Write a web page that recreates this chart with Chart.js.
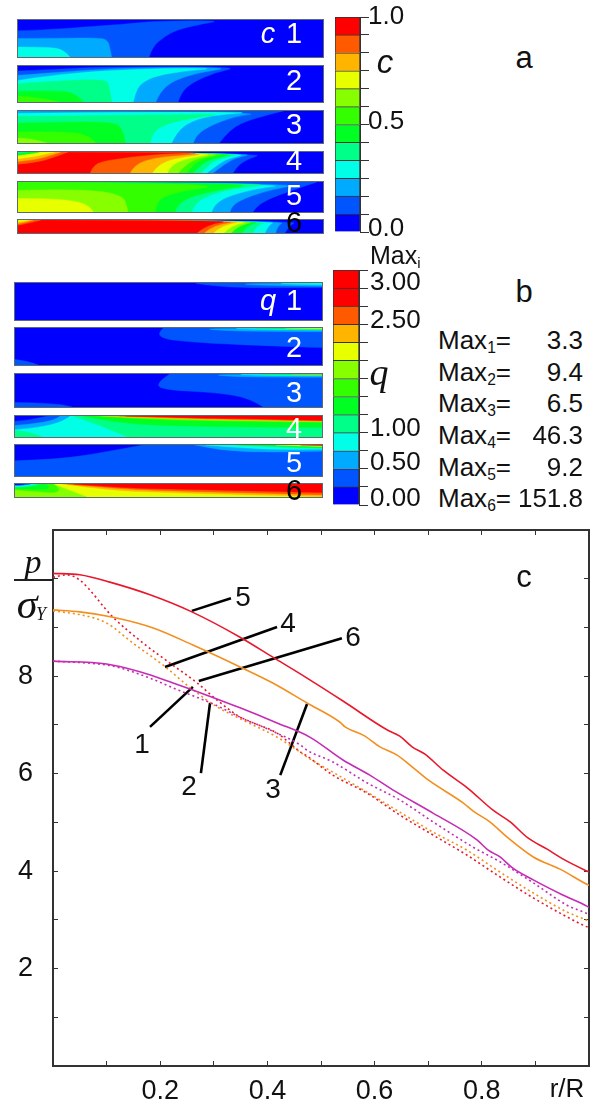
<!DOCTYPE html>
<html><head><meta charset="utf-8">
<script src="https://cdn.jsdelivr.net/npm/chart.js@4/dist/chart.umd.min.js"></script>
<style>
html,body{margin:0;padding:0;background:#fff;width:600px;height:1104px;overflow:hidden;position:relative;font-family:"Liberation Sans",Arial,sans-serif;color:#111}
canvas{position:absolute;display:block}
.strip{outline:1px solid #5d6b70;filter:blur(.35px)}
.t{position:absolute;transform:translate(-50%,-50%);white-space:nowrap;line-height:1;z-index:5}
.t sub{font-size:.6em;vertical-align:-.28em;line-height:0}
.rule{position:absolute;background:#222;z-index:5}
</style></head><body>
<script>
// ---- contour palette, one colour per level band
const levelColors=['#0000ff','#0055ff','#00aaff','#00ffe6','#00ff88','#00ff22','#33ff00','#88ff00','#e8ff00','#ffb400','#ff5a00','#ff0000'];
// ---- concentration c: [level, [x,y, x,y, ...]] in r/R and z/h units
const cField1=[[1,[0,.71,.08,.73,.21,.80,.38,.91,.45,.97,.67,.99,.60,.89,.52,.73,.48,.55,.44,.27,.43,0,0,0]],[2,[0,.50,.15,.51,.26,.52,.295,.46,.303,.18,.307,0,0,0]],[3,[0,.27,.10,.27,.15,.2,.17,0,0,0]]];
const cField2=[[1,[0,.86,.10,.90,.29,.98,.73,.98,.65,.83,.575,.56,.535,.28,.525,0,0,0]],[2,[0,.74,.16,.85,.38,.96,.706,.96,.60,.83,.51,.60,.465,.28,.452,0,0,0]],[3,[0,.60,.105,.74,.27,.86,.49,.94,.65,.94,.55,.86,.455,.74,.40,.51,.384,.23,.378,0,0,0]],[4,[0,.51,.16,.60,.29,.63,.30,.42,.307,0,0,0]],[5,[0,.30,.12,.32,.19,.25,.215,0,0,0]],[6,[0,.17,.08,.12,.135,0,0,0]]];
const cField3=[[1,[0,1,.87,1,.77,.77,.695,.45,.66,0,0,0]],[2,[0,1,.815,.97,.705,.82,.62,.5,.58,.19,.575,0,0,0]],[3,[0,.93,.20,.95,.50,.97,.78,.96,.65,.88,.57,.70,.52,.35,.504,0,0,0]],[4,[0,.83,.25,.86,.50,.88,.68,.90,.58,.80,.49,.61,.44,.35,.433,0,0,0]],[5,[0,.62,.15,.66,.31,.66,.345,.45,.352,0,0,0]],[6,[0,.35,.16,.37,.235,.24,.255,0,0,0]],[7,[0,.16,.05,.14,.095,0,0,0]]];
const cField4=[[1,[0,1,.81,.94,.76,.7,.72,.37,.705,0,0,0]],[2,[0,1,.785,.95,.717,.73,.68,.45,.64,0,0,0]],[3,[0,1,.77,.96,.69,.7,.652,.37,.62,0,0,0]],[4,[0,1,.757,.97,.66,.7,.623,.37,.60,0,0,0]],[5,[0,1,.74,.97,.636,.7,.597,.37,.575,0,0,0]],[6,[0,1,.72,.98,.607,.7,.574,.37,.553,0,0,0]],[7,[0,1,.70,.98,.587,.7,.548,.37,.525,0,0,0]],[8,[0,1,.68,.98,.554,.7,.50,.37,.49,0,0,0]],[9,[0,1,.66,.98,.515,.73,.456,.37,.44,0,0,0]],[10,[0,1,.64,.98,.515,.83,.45,.73,.384,.45,.367,0,0,0]],[11,[0,1,.607,.98,.515,.95,.426,.87,.308,.65,.246,.45,.236,0,0,0]],[10,[0,.42,.056,.5,.11,.7,.164,1,0,1]],[9,[0,.55,.05,.62,.10,.8,.14,1,0,1]],[8,[0,.68,.04,.75,.09,.9,.12,1,0,1]],[5,[0,.85,.03,.88,.07,1,0,1]],[4,[0,.95,.03,1,0,1]]];
const cField5=[[1,[0,1,.98,1,.88,.66,.81,.38,.78,.15,.77,0,0,0]],[2,[0,1,.95,.96,.83,.75,.74,.45,.70,.2,.695,0,0,0]],[3,[0,1,.90,.93,.78,.78,.68,.5,.64,.2,.635,0,0,0]],[4,[0,.97,.30,.97,.60,.97,.84,.92,.70,.78,.61,.5,.575,.2,.57,0,0,0]],[5,[0,1,.5,.98,.78,.92,.66,.75,.56,.5,.52,.2,.515,0,0,0]],[6,[0,1,.40,.97,.66,.88,.55,.72,.47,.5,.452,.2,.45,0,0,0]],[7,[0,.72,.10,.75,.26,.72,.34,.55,.357,.26,.36,0,0,0]],[8,[0,.45,.098,.45,.187,.375,.236,.2,.247,0,0,0]]];
const cField6=[[1,[0,1,.92,.95,.89,.6,.875,0,0,0]],[2,[0,1,.88,.95,.85,.55,.845,0,0,0]],[3,[0,1,.85,.95,.82,.6,.81,0,0,0]],[4,[0,1,.83,.95,.78,.6,.77,0,0,0]],[5,[0,1,.81,.95,.75,.6,.735,0,0,0]],[7,[0,1,.80,.95,.72,.6,.70,0,0,0]],[8,[0,1,.78,.95,.70,.62,.675,0,0,0]],[9,[0,1,.76,.95,.67,.65,.64,0,0,0]],[10,[0,1,.75,.95,.64,.65,.61,0,0,0]],[11,[0,1,.72,.97,.62,.7,.586,0,0,0]],[10,[0,.6,.03,.72,.075,1,0,1]],[9,[0,.72,.03,.85,.05,1,0,1]],[8,[0,.85,.02,.9,.035,1,0,1]]];
// ---- flux q
const qField1=[[1,[.59,.98,.70,.88,.85,.87,1,.88,1,1,.59,1]],[2,[.70,.98,.85,.92,1,.91,1,1]],[3,[.80,.98,1,.95,1,1]]];
const qField2=[[1,[.483,1,.465,.86,.48,.73,.52,.66,.65,.58,.82,.52,1,.47,1,1]],[1,[0,.15,.04,.12,.076,0,0,0]],[2,[.59,.99,.70,.92,.85,.91,1,.90,1,1]],[3,[.66,.99,.85,.95,1,.94,1,1]],[5,[.78,1,1,.965,1,1]],[8,[.88,1,1,.98,1,1]]];
const qField3=[[1,[.504,1,.453,.69,.493,.51,.656,.44,.765,.27,.808,0,1,0,1,1]],[1,[0,.14,.15,.12,.185,0,0,0]],[2,[.62,.99,.73,.91,.85,.91,1,.90,1,1]],[3,[.68,.99,.85,.95,1,.94,1,1]],[5,[.80,1,1,.97,1,1]],[9,[.90,1,1,.985,1,1]]];
const qField4=[[1,[0,.75,.04,.8,.09,.95,.107,1,1,1,1,0,0,0]],[2,[0,.55,.05,.6,.13,.8,.147,1,1,1,1,0,0,0]],[3,[0,.35,.08,.45,.16,.75,.18,1,1,1,1,0,0,0]],[4,[.19,1,1,1,1,0,.368,0,.277,.57]],[4,[0,.31,.05,.26,.09,0,0,0]],[5,[.22,1,.30,.75,.50,.50,1,.46,1,1]],[6,[.26,1,.40,.83,.70,.74,1,.70,1,1]],[7,[.28,1,.45,.85,.75,.77,1,.72,1,1]],[9,[.30,1,.52,.87,.75,.80,1,.74,1,1]],[10,[.34,1,.55,.90,.75,.83,1,.77,1,1]],[11,[.36,1,.55,.92,.75,.86,1,.79,1,1]]];
const qField5=[[1,[0,.49,.147,.54,.287,.76,.417,1,1,1,1,0,0,0]],[2,[.586,1,.668,.82,.83,.76,1,.8,1,1]],[3,[.62,1,.74,.9,.88,.85,1,.86,1,1]],[5,[.72,1,.88,.93,1,.9,1,1]],[8,[.85,1,1,.95,1,1]],[11,[.93,1,1,.98,1,1]]];
const qField6=[[8,[0,0,1,0,1,1,0,1]],[7,[0,0,.234,0,.124,1,0,1]],[6,[0,.55,.06,.45,.13,.3,.15,.6,.125,1,0,1]],[5,[0,.65,.08,.55,.12,.7,.10,1,0,1]],[4,[0,.75,.05,.75,.08,1,0,1]],[3,[0,.8,.04,.8,.07,1,0,1]],[1,[0,.9,.02,.85,.05,1,0,1]],[0,[0,.95,.02,.95,.03,1,0,1]],[9,[.156,1,.31,.5,.505,.33,.775,.16,1,.03,1,1]],[10,[.17,1,.35,.6,.55,.45,.8,.3,1,.18,1,1]],[11,[.19,1,.36,.68,.55,.6,.8,.45,1,.35,1,1]]];
// ---- colour bars
const cBarLevels=[0,1,2,3,4,5,6,7,8,9,10,11];
const qBarLevels=[0,1,2,3,4,5,6,7,8,9,10,11,11];
const cBarLabels=['1.0','0.5','0.0'];
const qBarLabels=['3.00','2.50','1.00','0.50','0.00'];
const maxNames=['Max1','Max2','Max3','Max4','Max5','Max6'];
const maxValues=['3.3','9.4','6.5','46.3','9.2','151.8'];
// ---- pressure curves p/sigma_Y against r/R
const curve1x=[0,.10,.162,.224,.287,.349,.418,.479,.541,.591,.638,.709,.791,.812,.834,.858,.896,.951,.996,1];
const curve1y=[8.31,8.25,8.09,7.86,7.61,7.35,7.04,6.75,6.28,5.97,5.64,5.19,4.64,4.43,4.29,4.06,3.82,3.51,3.28,3.25];
const curve2x=[0,.10,.125,.181,.237,.299,.349,.41,.461,.474,.522,.586,.647,.709,.784,.834,.896,.959,.994,1];
const curve2y=[8.31,8.23,8.17,7.96,7.70,7.43,7.16,6.87,6.59,6.48,6.24,5.81,5.46,5.01,4.49,4.19,3.76,3.30,3.14,3.11];
const curve3x=[0,.05,.112,.187,.261,.349,.41,.474,.535,.545,.582,.61,.642,.67,.70,.765,.784,.815,.849,.896,.946,.996,1];
const curve3y=[9.36,9.32,9.21,8.99,8.64,8.19,7.86,7.45,7.06,6.96,6.77,6.55,6.38,6.14,5.87,5.40,5.23,5.01,4.68,4.29,4.04,3.73,3.71];
const curve4x=[0,.056,.10,.149,.205,.261,.306,.354,.418,.461,.474,.522,.586,.647,.709,.772,.834,.896,.959,.994,1];
const curve4y=[9.34,9.25,9.09,8.68,8.23,7.72,7.37,7.10,6.75,6.44,6.34,6.03,5.62,5.21,4.80,4.43,3.98,3.55,3.16,3.00,2.97];
const curve5x=[0,.05,.106,.181,.259,.349,.41,.474,.541,.623,.647,.67,.694,.728,.774,.821,.853,.886,.922,.951,.996,1];
const curve5y=[10.11,10.08,9.93,9.67,9.32,8.80,8.39,7.96,7.49,6.90,6.77,6.55,6.40,6.07,5.70,5.25,5.01,4.68,4.45,4.25,4.00,3.98];
const curve6x=[0,.026,.05,.112,.168,.218,.269,.306,.349,.418,.461,.474,.522,.586,.647,.709,.772,.834,.896,.959,.993,1];
const curve6y=[10.03,10.08,9.97,9.21,8.68,8.27,7.86,7.51,7.16,6.83,6.45,6.36,5.97,5.60,5.15,4.74,4.33,3.88,3.45,3.06,2.87,2.84];
// ---- callout leader lines, in data units
const leader1x=[.181,.261],leader1y=[6.96,7.78];
const leader2x=[.276,.293],leader2y=[6.01,7.45];
const leader3x=[.424,.474],leader3y=[5.97,7.43];
const leader4x=[.209,.418],leader4y=[8.19,9.01];
const leader5x=[.259,.332],leader5y=[9.34,9.60];
const leader6x=[.272,.539],leader6y=[7.90,8.78];

const pairs=a=>{const r=[];for(let i=0;i<a.length;i+=2)r.push({x:a[i],y:a[i+1]});return r;};
const zip=(x,y)=>x.map((v,i)=>({x:v,y:y[i]}));

function addCanvas(x,y,w,h,cls){const c=document.createElement('canvas');c.width=w;c.height=h;c.style.left=x+'px';c.style.top=y+'px';c.style.width=w+'px';c.style.height=h+'px';if(cls)c.className=cls;document.body.appendChild(c);return c;}
function label(html,x,y,size,opt={}){const d=document.createElement('div');d.className='t';d.innerHTML=html;d.style.left=x+'px';d.style.top=y+'px';d.style.fontSize=size+'px';if(opt.color)d.style.color=opt.color;if(opt.italic)d.style.fontStyle='italic';if(opt.serif)d.style.fontFamily='"Liberation Serif",serif';if(opt.right){d.style.transform='translate(-100%,-50%)';}if(opt.left){d.style.transform='translate(0,-50%)';}document.body.appendChild(d);return d;}

// fills each dataset's library-positioned points as a closed band;
// vertices on the strip edge stay sharp, interior vertices are rounded
const bandFill={id:'bandFill',beforeDatasetDraw(chart,args){
  const ds=chart.data.datasets[args.index];if(!ds.band)return;
  const pts=args.meta.data,raw=ds.data,n=pts.length,ctx=chart.ctx;
  const sharp=i=>{const r=raw[i];return r.x===0||r.x===1||r.y===0||r.y===1;};
  const mid=(a,b)=>({x:(a.x+b.x)/2,y:(a.y+b.y)/2});
  ctx.save();ctx.beginPath();
  const s=sharp(0)?pts[0]:mid(pts[n-1],pts[0]);ctx.moveTo(s.x,s.y);
  for(let k=sharp(0)?1:0;k<n;k++){const p=pts[k],nx=pts[(k+1)%n];
    if(sharp(k))ctx.lineTo(p.x,p.y);
    else{const m=mid(p,nx);const e=sharp((k+1)%n)?nx:m;ctx.quadraticCurveTo(p.x,p.y,e.x,e.y);}}
  ctx.closePath();ctx.fillStyle=ds.bandColor;ctx.fill();ctx.strokeStyle=ds.bandColor;ctx.lineWidth=.4;ctx.stroke();ctx.restore();}};

function strip(field,x,y,w,h){
  // Chart.js paints dataset 0 last, so the painter's order is reversed here
  const datasets=[[0,[0,0,1,0,1,1,0,1]],...field].map(([lvl,pts])=>({type:'scatter',band:true,bandColor:levelColors[lvl],data:pairs(pts),showLine:false,pointRadius:0,pointHoverRadius:0})).reverse();
  new Chart(addCanvas(x,y,w,h,'strip'),{data:{datasets},plugins:[bandFill],options:{responsive:false,animation:false,devicePixelRatio:1,layout:{padding:0},events:[],plugins:{legend:{display:false},tooltip:{enabled:false}},scales:{x:{type:'linear',min:0,max:1,display:false},y:{type:'linear',min:0,max:1,display:false}}}});
}
[[cField1,20,37],[cField2,66,35.5],[cField3,111,32],[cField4,152,20.5],[cField5,181.5,29.5],[cField6,220,13]].forEach(([f,y,h])=>strip(f,18,Math.round(y),305,Math.round(h)));
[[qField1,283,36.5],[qField2,328,37],[qField3,374,33],[qField4,416,21],[qField5,444.5,30.5],[qField6,484,13]].forEach(([f,y,h])=>strip(f,15,Math.round(y),307,Math.round(h)));

function colorBar(levels,x,top,barW,barH){
  const n=levels.length,pad=2;
  const datasets=levels.map(l=>({label:'',data:[1],backgroundColor:levelColors[l],borderColor:'#333',borderWidth:1,stack:'s',barPercentage:1,categoryPercentage:1}));
  new Chart(addCanvas(x,top-pad,barW+10,barH+pad*2),{type:'bar',data:{labels:[''],datasets},options:{responsive:false,animation:false,devicePixelRatio:1,events:[],layout:{padding:{top:pad,bottom:pad}},plugins:{legend:{display:false},tooltip:{enabled:false}},scales:{x:{display:false,stacked:true},y:{stacked:true,position:'right',min:0,max:n,afterFit(s){s.width=10;},ticks:{stepSize:1,autoSkip:false,display:false},grid:{drawOnChartArea:false,tickLength:9,color:'#333'},border:{color:'#333'}}}}});
}
colorBar(cBarLevels,335,17,25,215);
colorBar(qBarLevels,333,270,26,235);

// main pressure chart
const FRAME='#333';
const solid=(d,c)=>({data:d,borderColor:c,borderWidth:1.6,pointRadius:0,showLine:true,cubicInterpolationMode:'monotone'});
const dotted=(d,c)=>({data:d,borderColor:c,borderWidth:1.6,borderDash:[2,3],pointRadius:0,showLine:true,cubicInterpolationMode:'monotone'});
const leader=(x,y)=>({data:zip(x,y),borderColor:'#000',borderWidth:2.6,pointRadius:0,showLine:true});
const MAGENTA='#c42cb4',ORANGE='#f28f1e',RED='#e8182c';
const noPad=s=>{s.paddingTop=0;s.paddingBottom=0;s.paddingLeft=0;s.paddingRight=0;};
new Chart(addCanvas(0,520,600,584),{type:'scatter',data:{datasets:[
  solid(zip(curve1x,curve1y),MAGENTA),dotted(zip(curve2x,curve2y),MAGENTA),
  solid(zip(curve3x,curve3y),ORANGE),dotted(zip(curve4x,curve4y),ORANGE),
  solid(zip(curve5x,curve5y),RED),dotted(zip(curve6x,curve6y),RED),
  leader(leader1x,leader1y),leader(leader2x,leader2y),leader(leader3x,leader3y),leader(leader4x,leader4y),leader(leader5x,leader5y),leader(leader6x,leader6y)
]},options:{responsive:false,animation:false,devicePixelRatio:1,events:[],layout:{padding:0},plugins:{legend:{display:false},tooltip:{enabled:false}},scales:{
  x:{type:'linear',position:'bottom',min:0,max:1,afterFit(s){s.height=38;noPad(s);},ticks:{stepSize:.1,autoSkip:false,maxRotation:0,padding:14,color:'#111',font:{family:'Liberation Sans',size:27},callback:v=>{const k=Math.round(v*10);return (k%2===0&&k>0&&k<10)?(k/10).toFixed(1):'';}},grid:{drawOnChartArea:false,tickLength:-5,color:FRAME},border:{color:FRAME,width:2}},
  xTop:{type:'linear',axis:'x',position:'top',min:0,max:1,afterFit(s){s.height=10;noPad(s);},ticks:{stepSize:.1,autoSkip:false,display:false},grid:{drawOnChartArea:false,tickLength:-5,color:FRAME},border:{color:FRAME,width:2}},
  y:{type:'linear',position:'left',min:0,max:11,afterFit(s){s.width=53;noPad(s);},ticks:{stepSize:1,autoSkip:false,padding:25,color:'#111',font:{family:'Liberation Sans',size:27},callback:v=>(v>0&&v<10&&v%2===0)?String(v):''},grid:{drawOnChartArea:false,tickLength:-5,color:FRAME},border:{color:FRAME,width:2}},
  yRight:{type:'linear',axis:'y',position:'right',min:0,max:11,afterFit(s){s.width=11;noPad(s);},ticks:{stepSize:1,autoSkip:false,display:false},grid:{drawOnChartArea:false,tickLength:-5,color:FRAME},border:{color:FRAME,width:2}}
}}});

// strip captions
label('c',268,33,29,{color:'#fff',italic:true});
[['1',33],['2',80],['3',124],['4',160],['5',195]].forEach(([s,y])=>label(s,294,y,29,{color:'#fff'}));
label('6',294,222,29,{color:'#000'});
label('q',268,300,29,{color:'#fff',italic:true});
[['1',300],['2',347],['3',392],['4',428],['5',462]].forEach(([s,y])=>label(s,294,y,29,{color:'#fff'}));
label('6',294,490,29,{color:'#000'});
// colour-bar captions
[[0,15],[1,120],[2,227]].forEach(([i,y])=>label(cBarLabels[i],368,y,26,{left:true}));
[[0,281],[1,319],[2,427],[3,461],[4,497]].forEach(([i,y])=>label(qBarLabels[i],370,y,26,{left:true}));
label('c',385,61,33,{italic:true});
label('q',379,372,38,{italic:true,serif:true});
label('Max<sub>i</sub>',370,255,25,{left:true});
label('a',524,57,31);label('b',524,291,31);label('c',524,576,31);
// Max table
[340,372,403,435,467,498].forEach((y,i)=>{label(maxNames[i].slice(0,3)+'<sub>'+maxNames[i].slice(3)+'</sub>=',438,y,26,{left:true});label(maxValues[i],583,y,26,{right:true});});
// line-chart captions
label('r/R',567,1088,26);
label('p',33,562,34,{italic:true,serif:true});
const rule=document.createElement('div');rule.className='rule';rule.style.cssText='left:14px;top:579px;width:39px;height:1.5px';document.body.appendChild(rule);
label('σ',27,604,42,{italic:true,serif:true});
label('Y',41,614,18,{italic:true,serif:true});
[['1',142,744],['2',189,786],['3',273,789],['4',288,623],['5',243,597],['6',353,637]].forEach(([s,x,y])=>label(s,x,y,28));
</script>
</body></html>
